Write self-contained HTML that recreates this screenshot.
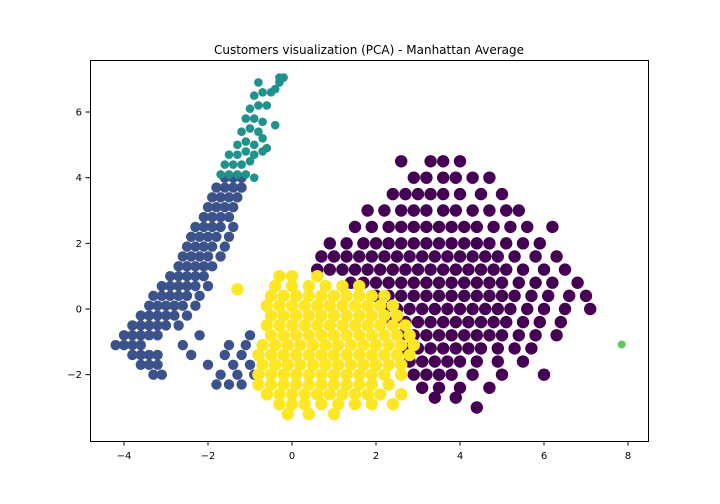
<!DOCTYPE html>
<html><head><meta charset="utf-8">
<style>
html,body{margin:0;padding:0;background:#fff;}
svg{display:block;font-family:"DejaVu Sans","Liberation Sans",sans-serif;}
</style></head>
<body>
<svg id="chart" width="720" height="504" viewBox="0 0 720 504">
  <rect x="0" y="0" width="720" height="504" fill="#fff"/>
  <text x="369" y="54" text-anchor="middle" font-size="12" fill="#000">Customers visualization (PCA) - Manhattan Average</text>
  <g id="points"></g>
  <rect x="90.5" y="60.5" width="558" height="381" fill="none" stroke="#000" stroke-width="1"/>
  <g id="xaxis"></g>
  <g id="yaxis"></g>
</svg>
<script>
const xTicks=[-4,-2,0,2,4,6,8];
const yTicks=[-2,0,2,4,6];

const blueRowY=[-1.1,-0.8,-0.5,-0.2,0.1,0.4,0.7,1.0,1.3,1.6,1.9,2.2,2.5,2.8,3.1,3.4,3.7,4.0,-1.4,-1.7,-2.0,-2.3,-1.1,-0.8];
const blueRowX=[
[-4.2,-4.0,-3.8,-3.6],
[-4.0,-3.8,-3.6,-3.4,-3.2],
[-3.8,-3.6,-3.4,-3.2,-3.0,-2.7],
[-3.6,-3.4,-3.2,-3.0,-2.8,-2.5],
[-3.4,-3.2,-3.0,-2.8,-2.6,-2.3],
[-3.3,-3.1,-2.9,-2.7,-2.5,-2.2],
[-3.1,-2.9,-2.7,-2.5,-2.3,-2.0],
[-2.9,-2.7,-2.5,-2.3,-2.1],
[-2.7,-2.5,-2.3,-2.1,-1.9],
[-2.6,-2.4,-2.2,-2.0,-1.7],
[-2.5,-2.3,-2.1,-1.9,-1.6],
[-2.4,-2.2,-2.0,-1.8,-1.5],
[-2.3,-2.1,-1.9,-1.7,-1.4],
[-2.1,-1.9,-1.7,-1.5],
[-2.0,-1.8,-1.6,-1.4],
[-1.9,-1.7,-1.5,-1.3],
[-1.8,-1.6,-1.4,-1.2],
[-1.6,-1.4,-1.2],
[-3.8,-3.6,-3.4,-3.2,-2.4,-1.6,-1.2],
[-3.6,-3.4,-3.2,-2.0,-1.4,-1.0],
[-3.3,-3.1,-1.7,-1.3,-0.9],
[-1.8,-1.5,-1.2,-0.8],
[-2.6,-1.5,-1.1,-0.7],
[-2.2,-1.0]
];

const tealX=[-1.7,-1.5,-1.3,-1.1,-0.9,-1.6,-1.4,-1.2,-1.0,-1.5,-1.3,-1.1,-0.9,-0.7,-1.3,-1.1,-0.9,-0.7,-1.2,-1.0,-0.8,-1.1,-0.9,-0.7,-0.4,-1.0,-0.8,-0.6,-0.9,-0.7,-0.5,-0.8,-0.4,-0.3,-0.2,-0.6,-0.3];
const tealY=[4.1,4.1,4.1,4.1,4.0,4.4,4.4,4.4,4.5,4.7,4.7,4.8,4.7,4.8,5.0,5.1,5.0,5.2,5.4,5.5,5.4,5.8,5.8,5.7,5.6,6.1,6.2,6.2,6.5,6.6,6.6,6.9,6.7,7.05,7.05,4.9,6.9];

const purpleRowY=[4.5,4.0,3.5,3.0,2.5,2.0,1.6,1.2,0.8,0.4,0.0,-0.4,-0.8,-1.2,-1.6,-2.0,-2.4,-2.7,-3.0];
const purpleRowX=[
[2.6,3.3,3.6,4.0],
[2.9,3.2,3.6,3.9,4.3,4.7],
[2.4,2.7,3.0,3.3,3.6,4.0,4.5,5.0],
[1.8,2.2,2.6,2.9,3.2,3.6,3.9,4.3,4.7,5.1,5.4],
[1.5,1.9,2.3,2.6,2.9,3.2,3.5,3.8,4.1,4.4,4.8,5.2,5.6,6.2],
[0.9,1.3,1.7,2.0,2.3,2.6,2.9,3.2,3.5,3.8,4.1,4.4,4.7,5.1,5.5,5.9],
[0.7,1.0,1.3,1.6,1.9,2.2,2.5,2.8,3.1,3.4,3.7,4.0,4.3,4.6,4.9,5.3,5.8,6.3],
[0.6,0.9,1.2,1.5,1.8,2.1,2.4,2.7,3.0,3.3,3.6,3.9,4.2,4.5,4.8,5.1,5.5,6.0,6.5],
[1.4,1.7,2.0,2.3,2.6,2.9,3.2,3.5,3.8,4.1,4.4,4.7,5.0,5.4,5.8,6.2,6.8],
[2.0,2.3,2.6,2.9,3.2,3.5,3.8,4.1,4.4,4.7,5.0,5.3,5.7,6.1,6.6,7.0],
[2.2,2.5,2.8,3.1,3.4,3.7,4.0,4.3,4.6,4.9,5.2,5.6,6.0,6.5,7.1],
[2.4,2.7,3.0,3.3,3.6,3.9,4.2,4.5,4.8,5.1,5.5,5.9,6.4],
[2.6,2.9,3.2,3.5,3.8,4.1,4.4,4.7,5.0,5.4,5.8,6.3],
[2.7,3.0,3.3,3.6,3.9,4.2,4.5,4.9,5.3,5.7],
[2.8,3.1,3.4,3.7,4.0,4.4,4.9,5.5],
[2.9,3.2,3.5,3.8,4.3,5.0,6.0],
[3.1,3.5,4.0,4.7],
[3.4,3.9],
[4.4]
];

const yellowRowY=[1.0,0.7,0.4,0.1,-0.2,-0.5,-0.8,-1.1,-1.4,-1.7,-2.0,-2.3,-2.6,-2.9,-3.2,0.6];
const yellowRowX=[
[-0.3,0.0,0.6],
[-0.4,0.0,0.4,0.8,1.2,1.6],
[-0.5,-0.2,0.1,0.4,0.7,1.0,1.3,1.6,1.9,2.2],
[-0.6,-0.3,0.0,0.3,0.6,0.9,1.2,1.5,1.8,2.1,2.4],
[-0.5,-0.2,0.1,0.4,0.7,1.0,1.3,1.6,1.9,2.2,2.5],
[-0.6,-0.3,0.0,0.3,0.6,0.9,1.2,1.5,1.8,2.1,2.4,2.7],
[-0.5,-0.2,0.1,0.4,0.7,1.0,1.3,1.6,1.9,2.2,2.5,2.8],
[-0.7,-0.4,-0.1,0.2,0.5,0.8,1.1,1.4,1.7,2.0,2.3,2.6,2.9],
[-0.8,-0.5,-0.2,0.1,0.4,0.7,1.0,1.3,1.6,1.9,2.2,2.5,2.8],
[-0.7,-0.4,-0.1,0.2,0.5,0.8,1.1,1.4,1.7,2.0,2.3,2.6],
[-0.8,-0.5,-0.2,0.1,0.4,0.7,1.0,1.3,1.6,1.9,2.2,2.6],
[-0.8,-0.5,-0.2,0.1,0.4,0.7,1.0,1.3,1.6,1.9,2.3],
[-0.6,-0.3,0.0,0.3,0.6,0.9,1.2,1.5,1.8,2.1,2.6],
[-0.3,0.0,0.3,0.7,1.1,1.5,1.9,2.4],
[-0.1,0.4,1.0],
[-1.3]
];

const greenX=[7.85];
const greenY=[-1.08];

const X0=292, XS=42, Y0=309, YS=32.83;
function sx(v){return X0+v*XS;}
function sy(v){return Y0-v*YS;}
const NS="http://www.w3.org/2000/svg";
const layer=document.getElementById('points');

function dot(x,y,color,name,r){
  const c=document.createElementNS(NS,'circle');
  c.setAttribute('cx',sx(x));
  c.setAttribute('cy',sy(y));
  c.setAttribute('r',r);
  c.setAttribute('fill',color);
  
  
  layer.appendChild(c);
}
function drawRows(rowY,rowX,color,name,r){
  rowY.forEach((y,i)=>{rowX[i].forEach(x=>dot(x,y,color,name,r));});
}
drawRows(blueRowY,blueRowX,'#3b528b','cluster-blue-point',5.2);
tealX.forEach((x,i)=>dot(x,tealY[i],'#21918c','cluster-teal-point',4.3));
drawRows(purpleRowY,purpleRowX,'#440154','cluster-purple-point',6.2);
drawRows(yellowRowY,yellowRowX,'#fde725','cluster-yellow-point',6.2);
greenX.forEach((x,i)=>dot(x,greenY[i],'#5ec962','cluster-green-point',4));

const xa=document.getElementById('xaxis');
xTicks.forEach(t=>{
  const px=sx(t);
  const l=document.createElementNS(NS,'line');
  l.setAttribute('x1',px);l.setAttribute('x2',px);
  l.setAttribute('y1',441);l.setAttribute('y2',445.5);
  l.setAttribute('stroke','#000');
  
  
  xa.appendChild(l);
  const tx=document.createElementNS(NS,'text');
  tx.setAttribute('x',px);tx.setAttribute('y',459);
  tx.setAttribute('text-anchor','middle');tx.setAttribute('font-size','10');
  tx.textContent=t<0?'\u2212'+Math.abs(t):String(t);
  
  
  xa.appendChild(tx);
});
const ya=document.getElementById('yaxis');
yTicks.forEach(t=>{
  const py=sy(t);
  const l=document.createElementNS(NS,'line');
  l.setAttribute('x1',85.5);l.setAttribute('x2',90);
  l.setAttribute('y1',py);l.setAttribute('y2',py);
  l.setAttribute('stroke','#000');
  
  
  ya.appendChild(l);
  const tx=document.createElementNS(NS,'text');
  tx.setAttribute('x',82);tx.setAttribute('y',py+3.5);
  tx.setAttribute('text-anchor','end');tx.setAttribute('font-size','10');
  tx.textContent=t<0?'\u2212'+Math.abs(t):String(t);
  
  
  ya.appendChild(tx);
});
</script>
</body></html>
